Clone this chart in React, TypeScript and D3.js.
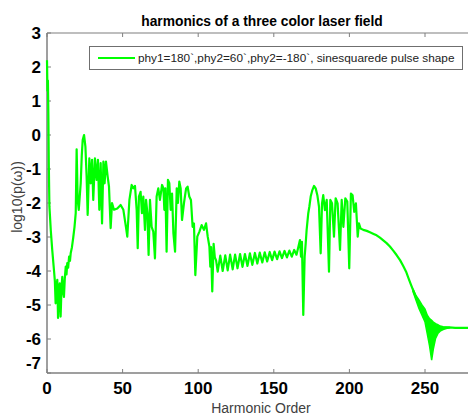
import React from "react";
import * as d3 from "d3";

const titleText = "harmonics of a three color laser field";
const legendText = "phy1=180`,phy2=60`,phy2=-180`, sinesquarede pulse shape";
const xLabel = "Harmonic Order";
const yLabel = "log10(p(\u03c9))";
const xTicks = [0, 50, 100, 150, 200, 250];
const yTicks = [3, 2, 1, 0, -1, -2, -3, -4, -5, -6, -7];

// main spectrum
const harmonicOrder = [
  0, 0.3, 0.6, 0.9, 1.2, 1.6, 2.5, 3.5, 4.6, 5.2, 5.7, 6.2, 6.8, 7.3, 7.9, 8.4, 9.0, 9.6, 10.1, 10.6,
  11.2, 11.8, 12.4, 12.9, 13.4, 14.0, 14.6, 15.2, 15.7, 16.5, 17.4, 18.2, 19.0, 19.6, 20.3, 21.0, 22.3, 23.0, 23.6, 24.5,
  25.4, 26.2, 26.9, 28.0, 28.9, 29.8, 30.6, 31.7, 32.8, 33.7, 34.6, 35.5, 36.4, 37.3, 38.1, 39.0, 40.1, 41.0, 42.1, 43.0,
  44.3, 46.5, 48.7, 50.5, 52.2, 53.1, 54.5, 56.0, 57.1, 58.2, 59.3, 60.0, 60.8, 61.9, 62.8, 63.7, 64.8, 65.5, 66.4, 67.2,
  68.1, 69.2, 70.3, 71.4, 72.5, 73.6, 74.7, 76.1, 77.0, 77.6, 78.3, 79.1, 80.0, 80.9, 81.8, 82.7, 83.6, 84.7, 85.8, 86.6,
  87.5, 88.4, 89.3, 90.6, 92.0, 93.0, 94.1, 95.2, 96.3, 97.2, 98.1, 99.4, 100.8, 102.3, 103.8, 105.2, 106.3, 107.4, 108.0, 108.5,
  109.3, 110.2, 111.0, 111.8, 112.9, 114.6, 116.2, 117.9, 119.5, 121.1, 122.8, 124.4, 126.0, 127.7, 129.3, 130.9, 132.6, 134.2, 135.8, 137.5,
  139.1, 140.7, 142.4, 144.0, 145.6, 147.3, 148.9, 150.5, 152.2, 153.8, 155.4, 157.1, 158.7, 160.3, 161.9, 163.5, 165.0, 166.2, 167.3, 168.0,
  168.6, 169.5, 170.4, 171.1, 171.7, 172.8, 173.5, 174.4, 175.5, 176.6, 177.7, 178.8, 179.9, 181.0, 181.9, 182.7, 183.8, 185.0, 186.5, 187.4,
  188.5, 189.8, 190.9, 192.2, 193.8, 194.9, 196.0, 197.3, 198.6, 199.9, 201.0, 202.1, 203.2, 204.3, 205.5, 206.3, 207.4, 209.2, 211.5, 213.6,
  216.0, 218.0, 220.2, 222.4, 224.6, 226.8, 229.0, 231.2, 233.5, 235.7, 237.5, 239.0, 240.5, 242.0, 243.4, 245.6, 247.8, 250.0, 252.2, 254.4,
  256.6, 259.0, 262.0, 266.0, 270.0, 275.0, 280.0,
];
const log10Power = [
  2.2, 1.3, 1.6, 0.6, -0.9, -2.1, -2.8, -3.4, -3.97, -4.3, -4.95, -4.5, -4.26, -5.38, -4.6, -4.36, -5.34, -4.5, -4.17, -4.6,
  -4.76, -4.2, -3.87, -4.1, -3.77, -3.9, -3.58, -3.7, -3.47, -3.3, -3.0, -2.7, -2.3, -0.42, -1.91, -2.2, -1.42, -0.6, -0.15, 0.0,
  -0.34, -1.22, -2.35, -0.69, -1.42, -0.73, -1.91, -0.69, -1.32, -0.73, -2.2, -0.83, -2.6, -0.78, -1.42, -0.78, -1.22, -1.52, -2.74, -2.0,
  -2.2, -2.16, -2.06, -2.2, -2.7, -2.99, -1.91, -1.47, -1.57, -1.5, -2.2, -3.33, -1.81, -1.67, -2.3, -1.81, -2.79, -1.91, -2.3, -3.53,
  -1.91, -2.7, -2.84, -3.63, -1.81, -1.57, -1.91, -1.47, -1.57, -2.2, -1.57, -3.43, -1.32, -1.42, -2.2, -1.72, -2.89, -3.43, -1.57, -2.0,
  -1.37, -1.57, -2.5, -2.0, -1.57, -1.52, -1.81, -1.91, -2.7, -2.6, -4.12, -2.99, -2.84, -2.65, -2.79, -2.6, -2.99, -3.28, -3.87, -3.3,
  -4.6, -3.2, -3.6, -3.68, -4.02, -3.55, -4.0, -3.54, -3.98, -3.52, -3.95, -3.52, -3.92, -3.5, -3.88, -3.5, -3.85, -3.48, -3.82, -3.47,
  -3.78, -3.46, -3.75, -3.45, -3.72, -3.44, -3.68, -3.43, -3.65, -3.42, -3.62, -3.41, -3.6, -3.4, -3.58, -3.38, -3.52, -3.3, -3.09, -3.58,
  -3.14, -5.29, -3.58, -3.19, -2.8, -2.3, -2.11, -1.81, -1.62, -1.5, -1.57, -1.77, -2.11, -3.48, -2.01, -1.77, -2.21, -1.91, -4.02, -1.91,
  -2.01, -2.99, -1.86, -2.01, -3.38, -1.91, -2.7, -1.86, -1.96, -3.92, -1.72, -1.77, -2.26, -2.01, -2.99, -2.6, -2.75, -2.79, -2.82, -2.86,
  -2.91, -2.95, -3.02, -3.1, -3.18, -3.28, -3.4, -3.53, -3.68, -3.86, -4.02, -4.2, -4.38, -4.55, -4.7, -4.95, -5.15, -5.3, -5.6, -5.9,
  -5.75, -5.7, -5.67, -5.66, -5.67, -5.67, -5.67,
];

// dense oscillation band near the cutoff (upper / lower envelope)
const bandOrder = [242, 244, 246, 248, 250, 251.5, 253, 254.4, 255.5, 257, 258.5, 260, 262, 264, 266];
const bandUpper = [-4.52, -4.72, -4.85, -5.0, -5.12, -5.3, -5.4, -5.45, -5.5, -5.55, -5.58, -5.62, -5.64, -5.65, -5.66];
const bandLower = [-4.6, -4.85, -5.1, -5.3, -5.5, -5.85, -6.2, -6.62, -6.3, -5.98, -5.84, -5.77, -5.72, -5.69, -5.67];

const W = 468;
const H = 415;
const left = 47;
const top = 33;
const bottom = 373;
const font = "'Liberation Sans', Arial, Helvetica, sans-serif";
const green = "#00ff00";
const axisColor = "#7f7f7f";

export default function App() {
  const x = d3.scaleLinear().domain([0, 280]).range([left, left + 280 * 1.512]);
  const y = d3.scaleLinear().domain([-7, 3]).range([bottom, top]);

  const pts: [number, number][] = harmonicOrder.map((h, i) => [h, log10Power[i]]);
  const line = d3
    .line<[number, number]>()
    .x((d) => x(d[0]))
    .y((d) => y(d[1]))(pts) as string;

  const bandIdx = bandOrder.map((_, i) => i);
  const area = d3
    .area<number>()
    .x((i) => x(bandOrder[i]))
    .y0((i) => y(bandLower[i]))
    .y1((i) => y(bandUpper[i]))(bandIdx) as string;

  const right = W + 2;

  return (
    <svg
      width={W}
      height={H}
      style={{ position: "absolute", left: 0, top: 0, background: "#fff" }}
    >
      <defs>
        <clipPath id="plot">
          <rect x={left - 3} y={top - 3} width={right - left + 3} height={bottom - top + 6} />
        </clipPath>
      </defs>
      <rect x={0} y={0} width={W} height={H} fill="#fff" />

      {/* title */}
      <text
        x={262}
        y={26}
        textAnchor="middle"
        fontFamily={font}
        fontWeight="bold"
        fontSize={13.8}
        fill="#000"
      >
        {titleText}
      </text>

      {/* axes box */}
      <line x1={left} x2={left} y1={top} y2={bottom} stroke={axisColor} strokeWidth={1.5} />
      <line x1={left} x2={right} y1={bottom} y2={bottom} stroke={axisColor} strokeWidth={1.5} />
      <line x1={left} x2={right} y1={top} y2={top} stroke={axisColor} strokeWidth={1.2} />

      {xTicks.map((t) => (
        <g key={"xt" + t}>
          <line x1={x(t)} x2={x(t)} y1={bottom} y2={bottom - 4} stroke={axisColor} />
          <line x1={x(t)} x2={x(t)} y1={top} y2={top + 4} stroke={axisColor} />
          <text
            x={x(t)}
            y={394}
            textAnchor="middle"
            fontFamily={font}
            fontWeight="bold"
            fontSize={17}
            fill="#000"
          >
            {t}
          </text>
        </g>
      ))}

      {yTicks.map((t) => (
        <g key={"yt" + t}>
          <line x1={left} x2={left + 4} y1={y(t)} y2={y(t)} stroke={axisColor} />
          <text
            x={41}
            y={y(t) + (t === -7 ? -10 : 0)}
            dy="0.36em"
            textAnchor="end"
            fontFamily={font}
            fontWeight="bold"
            fontSize={17}
            fill="#000"
          >
            {t}
          </text>
        </g>
      ))}

      {/* data */}
      <g clipPath="url(#plot)">
        <path d={area} fill={green} stroke={green} strokeWidth={1.5} />
        <path d={line} fill="none" stroke={green} strokeWidth={2.2} strokeLinejoin="round" />
      </g>

      {/* axis labels */}
      <text
        x={261}
        y={413}
        textAnchor="middle"
        fontFamily={font}
        fontSize={14}
        fill="#404040"
      >
        {xLabel}
      </text>
      <text
        transform="translate(22,197) rotate(-90)"
        textAnchor="middle"
        fontFamily={font}
        fontSize={14}
        fill="#404040"
      >
        {yLabel}
      </text>

      {/* legend */}
      <rect x={89.5} y={46.5} width={373} height={23} fill="#fff" stroke="#6f6f6f" strokeWidth={1} />
      <line x1={98} x2={135} y1={58} y2={58} stroke={green} strokeWidth={2} />
      <text x={138} y={62} fontFamily={font} fontSize={11.8} fill="#222">
        {legendText}
      </text>
    </svg>
  );
}
